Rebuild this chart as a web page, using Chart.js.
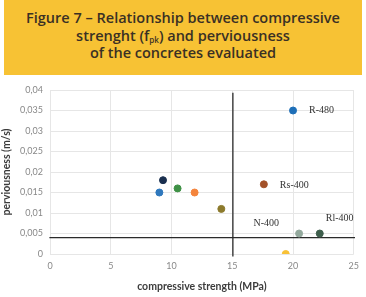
<!DOCTYPE html>
<html>
<head>
<meta charset="utf-8">
<script src="https://cdn.jsdelivr.net/npm/chart.js@4.4.0/dist/chart.umd.min.js"></script>
<style>
  html, body { margin: 0; padding: 0; background: #fff; width: 366px; height: 297px; overflow: hidden; }
  .header {
    position: absolute; left: 4px; top: 0; width: 358px; height: 75px;
    background: #f7c234; color: #3a3024;
    font-family: "Open Sans", Lato, sans-serif; font-weight: 600; font-size: 14.5px;
    line-height: 17.5px; text-align: center; padding-top: 9px; box-sizing: border-box;
  }
  .header sub { font-size: 8px; vertical-align: -2px; line-height: 0; }
  .wrap { position: absolute; left: 0; top: 76px; width: 366px; height: 221px; }
</style>
</head>
<body>
<div class="header">Figure 7 – Relationship between compressive<br>strenght (f<sub>pk</sub>) and perviousness<br>of the concretes evaluated</div>
<div class="wrap"><canvas id="chart" width="366" height="221"></canvas></div>
<script>
// Data
const strength = [9.0, 9.3, 10.5, 11.9, 14.1, 17.6, 20.0, 20.5, 22.2, 19.4];
const perviousness = [0.015, 0.018, 0.016, 0.015, 0.011, 0.017, 0.035, 0.005, 0.005, 0.0];
const pointColors = ["#2f78bd", "#1a2f4f", "#3f9146", "#f4843c", "#8c7a2c", "#a35129", "#1e6fb8", "#93a99d", "#3e5e4c", "#f8c136"];
const pointNames = ["", "", "", "", "", "Rs-400", "R-480", "N-400", "Rl-400", ""];

// reference lines
const limitStrength = 15.05;
const limitPerviousness = 0.004;

const xTicks = [0, 5, 10, 15, 20, 25];

function fmtTick(v) {
  return Number(v.toFixed(3)).toString().replace(".", ",");
}

// label offsets (px) relative to the point
const labelOffsets = {
  "R-480": [16, 0, "left"],
  "Rs-400": [16, 1, "left"],
  "N-400": [-20, -10, "right"],
  "Rl-400": [6, -15, "left"]
};

const pointLabels = {
  id: "pointLabels",
  afterDatasetsDraw(chart) {
    const ctx = chart.ctx;
    const xs = chart.scales.x, ys = chart.scales.y;
    ctx.save();
    ctx.font = "10px 'Liberation Serif', serif";
    ctx.fillStyle = "#333";
    ctx.textBaseline = "middle";
    pointNames.forEach((name, i) => {
      if (!name) return;
      const off = labelOffsets[name];
      ctx.textAlign = off[2];
      ctx.fillText(name, xs.getPixelForValue(strength[i]) + off[0], ys.getPixelForValue(perviousness[i]) + off[1]);
    });
    ctx.restore();
  }
};

const points = strength.map((s, i) => ({ x: s, y: perviousness[i] }));

new Chart(document.getElementById("chart"), {
  type: "scatter",
  data: {
    datasets: [
      {
        data: points,
        pointBackgroundColor: pointColors,
        pointBorderColor: pointColors,
        pointRadius: 3.5,
        order: 0
      },
      {
        type: "line",
        data: [{ x: limitStrength, y: -0.0006 }, { x: limitStrength, y: 0.0393 }],
        borderColor: "#2a2a2a",
        borderWidth: 1.3,
        pointRadius: 0,
        clip: false,
        order: 1
      },
      {
        type: "line",
        data: [{ x: -0.05, y: limitPerviousness }, { x: 25.1, y: limitPerviousness }],
        borderColor: "#2a2a2a",
        borderWidth: 1.3,
        pointRadius: 0,
        clip: false,
        order: 1
      }
    ]
  },
  options: {
    responsive: false,
    animation: false,
    layout: { padding: { top: 14, right: 8, left: 0, bottom: 0 } },
    plugins: { legend: { display: false }, tooltip: { enabled: false } },
    scales: {
      x: {
        type: "linear",
        min: 0, max: 25,
        afterBuildTicks: axis => { axis.ticks = xTicks.map(v => ({ value: v })); },
        grid: { color: "#e6e6e6", drawTicks: false },
        border: { display: false },
        ticks: { color: "#888", font: { size: 9, family: "Lato" }, padding: 7 },
        title: { display: true, text: "compressive strength (MPa)", color: "#3c3c3c", font: { size: 10.5, weight: "bold", family: "Lato" }, padding: { top: 3 } },
        afterFit: axis => { axis.height = 43; }
      },
      y: {
        min: 0, max: 0.04,
        ticks: { stepSize: 0.005, color: "#888", font: { size: 9, family: "Lato" }, padding: 7, callback: v => fmtTick(v) },
        grid: { color: "#e6e6e6", drawTicks: false },
        border: { display: false },
        title: { display: true, text: "perviousness (m/s)", color: "#3c3c3c", font: { size: 10.5, weight: "bold", family: "Lato" }, padding: 0 },
        afterFit: axis => { axis.width = 50; }
      }
    }
  },
  plugins: [pointLabels]
});
</script>
</body>
</html>
